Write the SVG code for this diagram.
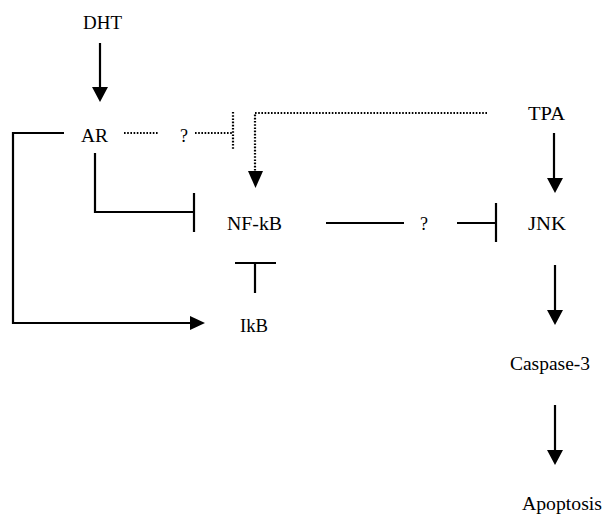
<svg xmlns="http://www.w3.org/2000/svg" width="603" height="514" viewBox="0 0 603 514">
<style>
text{font-family:"Liberation Serif","Times New Roman",serif;font-size:18px;fill:#000}
.s{stroke:#000;stroke-width:2.2;fill:none}
.d{stroke:#000;stroke-width:2.2;fill:none;stroke-dasharray:1.6 1.6}
.h{fill:#000}
</style>
<rect width="603" height="514" fill="#fff"/>
<g id="connectors">
<line class="s" x1="100" y1="43" x2="100" y2="88"/>
<polygon class="h" points="92,87 108,87 100,102"/>
<polyline class="s" points="64,133 13,133 13,323 192,323"/>
<polygon class="h" points="190,316 190,330 205,323"/>
<line class="d" x1="124" y1="133" x2="159" y2="133"/>
<line class="d" x1="195" y1="133" x2="233" y2="133"/>
<line class="d" x1="233" y1="112" x2="233" y2="150"/>
<polyline class="d" points="487,113 255,113 255,172"/>
<polygon class="h" points="248,171 263,171 255.5,188"/>
<polyline class="s" points="95,153 95,212 194,212"/>
<line class="s" x1="194" y1="193" x2="194" y2="232"/>
<line class="s" x1="326" y1="223" x2="404" y2="223"/>
<line class="s" x1="457" y1="223" x2="496" y2="223"/>
<line class="s" x1="496" y1="203" x2="496" y2="242"/>
<line class="s" x1="235" y1="263" x2="276" y2="263"/>
<line class="s" x1="255" y1="263" x2="255" y2="293"/>
<line class="s" x1="554" y1="133" x2="554" y2="179"/>
<polygon class="h" points="547,178 563,178 555,193"/>
<line class="s" x1="555" y1="265" x2="555" y2="311"/>
<polygon class="h" points="547,310 563,310 555,325"/>
<line class="s" x1="555" y1="405" x2="555" y2="451"/>
<polygon class="h" points="547,450 563,450 555,465"/>
</g>
<g id="DHT"><text x="83" y="29" textLength="39" lengthAdjust="spacingAndGlyphs">DHT</text></g>
<g id="AR"><text x="81" y="142" textLength="27" lengthAdjust="spacingAndGlyphs">AR</text></g>
<g id="q1"><text x="180" y="142">?</text></g>
<g id="TPA"><text x="528" y="120" textLength="37" lengthAdjust="spacingAndGlyphs">TPA</text></g>
<g id="NFkB"><text x="227" y="230" textLength="55" lengthAdjust="spacingAndGlyphs">NF-kB</text></g>
<g id="q2"><text x="420" y="230">?</text></g>
<g id="JNK"><text x="528" y="230" textLength="38" lengthAdjust="spacingAndGlyphs">JNK</text></g>
<g id="IkB"><text x="240" y="332" textLength="28" lengthAdjust="spacingAndGlyphs">IkB</text></g>
<g id="Caspase3"><text x="510" y="370" textLength="80" lengthAdjust="spacingAndGlyphs">Caspase-3</text></g>
<g id="Apoptosis"><text x="522" y="510" textLength="80" lengthAdjust="spacingAndGlyphs">Apoptosis</text></g>
</svg>
